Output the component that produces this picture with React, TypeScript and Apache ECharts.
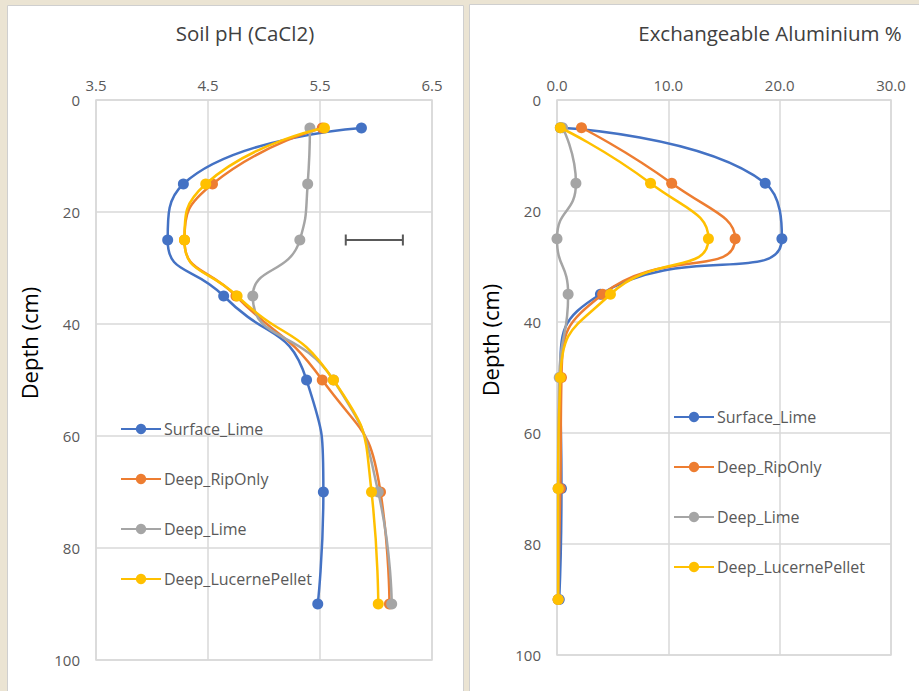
import React, { useEffect, useRef } from "react";
import * as echarts from "echarts";

const depths = [5, 15, 25, 35, 50, 70, 90];
const seriesNames = ["Surface_Lime", "Deep_RipOnly", "Deep_Lime", "Deep_LucernePellet"];
const seriesColors = ["#4472C4", "#ED7D31", "#A5A5A5", "#FFC000"];

// Soil pH (CaCl2)
const phSurfaceLime = [5.87, 4.28, 4.14, 4.64, 5.38, 5.53, 5.48];
const phDeepRipOnly = [5.52, 4.54, 4.29, 4.75, 5.52, 6.04, 6.12];
const phDeepLime = [5.41, 5.39, 5.32, 4.9, 5.62, 6.02, 6.14];
const phDeepLucernePellet = [5.54, 4.48, 4.29, 4.76, 5.62, 5.96, 6.02];
const phErrorBar = [5.73, 6.24];
const phErrorDepth = 25;

// Exchangeable Aluminium %
const alSurfaceLime = [0.3, 18.7, 20.2, 3.9, 0.3, 0.4, 0.2];
const alDeepRipOnly = [2.2, 10.3, 16.0, 4.1, 0.4, 0.3, 0.1];
const alDeepLime = [0.5, 1.7, 0.0, 1.0, 0.2, 0.1, 0.1];
const alDeepLucernePellet = [0.3, 8.4, 13.6, 4.8, 0.3, 0.1, 0.1];

const phTicks = { min: 3.5, max: 6.5, interval: 1 };
const alTicks = { min: 0, max: 30, interval: 10 };
const depthTicks = { min: 0, max: 100, interval: 20 };

const FONT = "'Open Sans', 'Noto Sans', sans-serif";
const LABEL_COLOR = "#595959";
const GRID_COLOR = "#D9D9D9";

export default function App() {
  const ref = useRef<HTMLDivElement>(null);
  useEffect(() => {
    if (!ref.current) return;
    const chart = echarts.init(ref.current, undefined, { renderer: "svg" });
    const phData = [phSurfaceLime, phDeepRipOnly, phDeepLime, phDeepLucernePellet];
    const alData = [alSurfaceLime, alDeepRipOnly, alDeepLime, alDeepLucernePellet];

    const mkSeries = (vals: number[], i: number, gi: number) => ({
      type: "line",
      name: seriesNames[i],
      xAxisIndex: gi,
      yAxisIndex: gi,
      data: vals.map((v, k) => [v, depths[k]]),
      smooth: 0.55,
      symbol: "circle",
      symbolSize: 11,
      lineStyle: { width: 2.5, color: seriesColors[i] },
      itemStyle: { color: seriesColors[i] },
      z: 2 + i,
    });

    const xAxisBase = {
      type: "value",
      position: "top",
      axisLine: { show: false },
      axisTick: { show: false },
      splitLine: { show: true, lineStyle: { color: GRID_COLOR, width: 1.5 } },
      axisLabel: { fontSize: 15, color: LABEL_COLOR, fontFamily: FONT, margin: 8 },
    };
    const yAxisBase = {
      type: "value",
      inverse: true,
      ...depthTicks,
      axisLine: { show: false },
      axisTick: { show: false },
      splitLine: { show: true, lineStyle: { color: GRID_COLOR, width: 1.5 } },
      axisLabel: { fontSize: 15, color: LABEL_COLOR, fontFamily: FONT, margin: 16 },
    };

    const legendBase = {
      orient: "vertical",
      itemWidth: 40,
      itemHeight: 13,
      itemGap: 34,
      textStyle: { fontSize: 16, color: LABEL_COLOR, fontFamily: FONT, padding: [0, 0, 0, -2] },
      data: seriesNames,
    };

    chart.setOption({
      animation: false,
      backgroundColor: "#EBE4D3",
      graphic: [
        { type: "rect", z: -10, shape: { x: 7.5, y: 5.5, width: 456, height: 690 }, style: { fill: "#FFFFFF", stroke: "#CFCFCF", lineWidth: 1 } },
        { type: "rect", z: -10, shape: { x: 469.5, y: 4.5, width: 455, height: 690 }, style: { fill: "#FFFFFF", stroke: "#CFCFCF", lineWidth: 1 } },
        { type: "text", z: 10, x: 245, y: 33, style: { text: "Soil pH (CaCl2)", fontSize: 20.5, fontFamily: FONT, fill: "#404040", align: "center", verticalAlign: "middle" } },
        { type: "text", z: 10, x: 770, y: 33, style: { text: "Exchangeable Aluminium %", fontSize: 20.5, fontFamily: FONT, fill: "#404040", align: "center", verticalAlign: "middle" } },
        { type: "text", z: 10, x: 29, y: 343, rotation: Math.PI / 2, style: { text: "Depth (cm)", fontSize: 22, fontFamily: FONT, fill: "#000000", align: "center", verticalAlign: "middle" } },
        { type: "text", z: 10, x: 490, y: 340, rotation: Math.PI / 2, style: { text: "Depth (cm)", fontSize: 22, fontFamily: FONT, fill: "#000000", align: "center", verticalAlign: "middle" } },
      ],
      grid: [
        { left: 96, top: 100, width: 336, height: 560, show: true, borderColor: GRID_COLOR, borderWidth: 1.5, backgroundColor: "#FFFFFF" },
        { left: 557, top: 100, width: 334, height: 555, show: true, borderColor: GRID_COLOR, borderWidth: 1.5, backgroundColor: "#FFFFFF" },
      ],
      xAxis: [
        { ...xAxisBase, gridIndex: 0, ...phTicks, axisLabel: { ...xAxisBase.axisLabel, formatter: (v: number) => v.toFixed(1) } },
        { ...xAxisBase, gridIndex: 1, ...alTicks, axisLabel: { ...xAxisBase.axisLabel, formatter: (v: number) => v.toFixed(1) } },
      ],
      yAxis: [
        { ...yAxisBase, gridIndex: 0 },
        { ...yAxisBase, gridIndex: 1 },
      ],
      legend: [
        { ...legendBase, left: 115, top: 416 },
        { ...legendBase, left: 668, top: 404 },
      ],
      series: [
        ...phData.map((vals, i) => mkSeries(vals, i, 0)),
        ...alData.map((vals, i) => mkSeries(vals, i, 1)),
        {
          type: "line",
          name: "errorbar",
          xAxisIndex: 0,
          yAxisIndex: 0,
          data: phErrorBar.map((v) => [v, phErrorDepth]),
          symbol: "rect",
          symbolSize: [2, 11],
          lineStyle: { width: 2, color: "#595959" },
          itemStyle: { color: "#595959" },
          silent: true,
          z: 1,
        },
      ],
    });
    return () => chart.dispose();
  }, []);
  return <div ref={ref} style={{ position: "absolute", left: 0, top: 0, width: 919, height: 691 }} />;
}
